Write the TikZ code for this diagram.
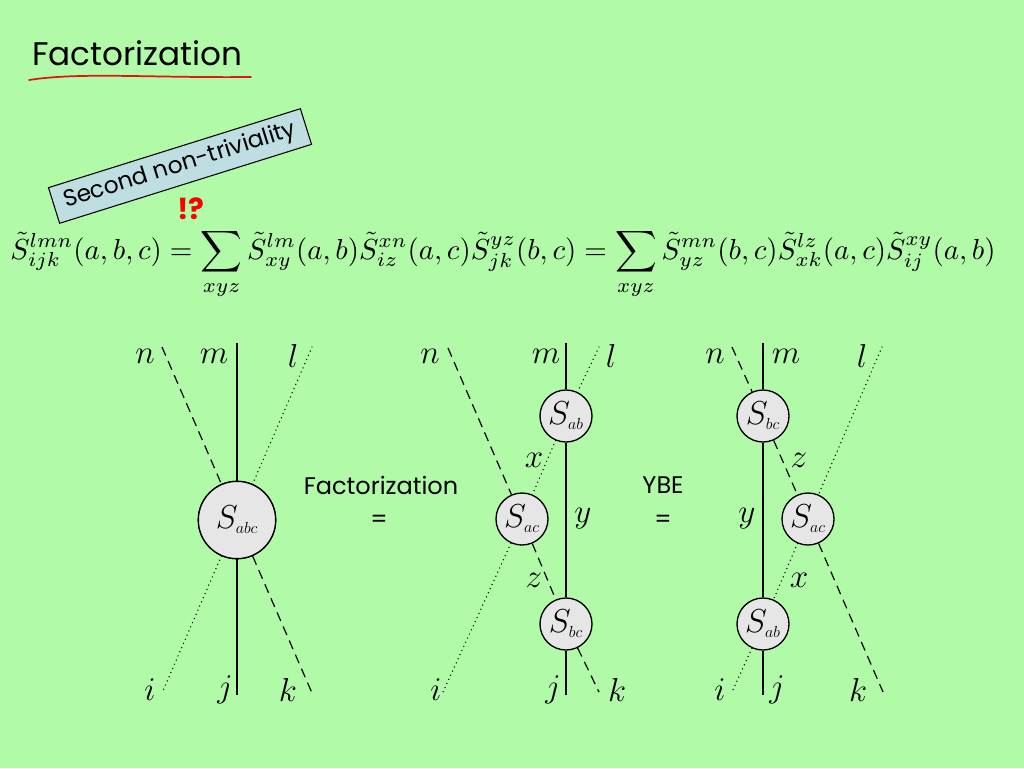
\documentclass[tikz,border=0pt]{standalone}
\usepackage{fontspec}
\usepackage{amsmath}
\usepackage{graphicx}
\newfontfamily\comicfont{Poppins}
\definecolor{bggreen}{RGB}{176,250,168}
\definecolor{boxblue}{RGB}{190,222,226}
\definecolor{circgray}{RGB}{230,230,230}
\definecolor{ulred}{RGB}{225,20,20}
\newcommand{\Ssub}[1]{S_{\scriptscriptstyle #1}}
\begin{document}
\begin{tikzpicture}[x=0.75pt,y=-0.75pt,
  vert/.style={line width=1pt},
  dsh/.style={line width=0.9pt,dash pattern=on 7pt off 4.5pt},
  dot/.style={line width=1.1pt,line cap=round,dash pattern=on 0pt off 3.4pt},
  bigS/.style={circle,draw,line width=1pt,fill=circgray,minimum size=58pt,inner sep=0pt,font=\fontsize{23}{26}\selectfont},
  smallS/.style={circle,draw,line width=1pt,fill=circgray,minimum size=39pt,inner sep=0pt,font=\fontsize{23}{26}\selectfont},
  lab/.style={font=\fontsize{24}{28}\selectfont,inner sep=0pt},
  ctext/.style={font=\comicfont\fontsize{18}{21}\selectfont,inner sep=0pt}]
\fill[bggreen] (0,0) rectangle (1024,768);
\useasboundingbox (0,0) rectangle (1024,768);

% title
\node[font=\comicfont\fontsize{24.5}{28}\selectfont,anchor=base west,inner sep=0pt] (title) at (32,65) {Factorization};
\draw[ulred,line width=1.3pt,line cap=round] (29,80) .. controls (80,72) and (150,78) .. (251,77);

% rotated box
\node[draw,fill=boxblue,line width=0.8pt,rotate=17.4,minimum width=198pt,minimum height=28pt,inner sep=0pt,font=\comicfont\fontsize{17.5}{20}\selectfont] (snt) at (180,166) {Second non-triviality};
\node[text=red,font=\comicfont\bfseries\fontsize{22}{26}\selectfont,inner sep=0pt] (ex) at (191,209) {!?};

% formula
\node[anchor=base west,inner sep=0pt] (formula) at (10,259) {\resizebox{739pt}{!}{$\displaystyle
\tilde S^{lmn}_{ijk}(a,b,c)=\sum_{xyz}\tilde S^{lm}_{xy}(a,b)\tilde S^{xn}_{iz}(a,c)\tilde S^{yz}_{jk}(b,c)=\sum_{xyz}\tilde S^{mn}_{yz}(b,c)\tilde S^{lz}_{xk}(a,c)\tilde S^{xy}_{ij}(a,b)$}};

% ---------- diagram 1
\coordinate (a1n) at (162,347);
\coordinate (a1l) at (312,347);
\coordinate (a1m) at (237,343);
\coordinate (a1i) at (162,693);
\coordinate (a1k) at (312,693);
\coordinate (a1j) at (237,695);
\node[bigS] (S1) at (237,520) {};
\draw[dsh] (a1n) -- (S1) -- (a1k);
\draw[dot] (a1l) -- (S1) -- (a1i);
\draw[vert] (a1m) -- (S1) -- (a1j);
\node[bigS] (S1b) at (237,520) {$\Ssub{abc}$};
\node[lab] (l1n) at (145,356) {$n$};
\node[lab] (l1m) at (214,356) {$m$};
\node[lab] (l1l) at (293,356) {$l$};
\node[lab] (l1i) at (150,690) {$i$};
\node[lab] (l1j) at (225,690) {$j$};
\node[lab] (l1k) at (288,690) {$k$};

\node[ctext] (fact) at (381,485) {Factorization};
\node[ctext] (eq1) at (379,521) {=};

% ---------- diagram 2
\coordinate (a2n) at (448,348);
\coordinate (a2l) at (599,347);
\coordinate (a2m) at (566,343);
\coordinate (a2i) at (443,692);
\coordinate (a2k) at (599,692);
\coordinate (a2j) at (566,695);
\node[smallS] (Sab2) at (566,416) {$\Ssub{ab}$};
\node[smallS] (Sac2) at (522,519) {$\Ssub{ac}$};
\node[smallS] (Sbc2) at (566,624) {$\Ssub{bc}$};
\draw[vert] (a2m) -- (Sab2) -- (Sbc2) -- (a2j);
\draw[dsh] (a2n) -- (Sac2) -- (Sbc2) -- (a2k);
\draw[dot] (a2l) -- (Sab2) -- (Sac2) -- (a2i);
\node[lab] (l2n) at (430,356) {$n$};
\node[lab] (l2m) at (546,356) {$m$};
\node[lab] (l2l) at (611,356) {$l$};
\node[lab] (l2x) at (534,460) {$x$};
\node[lab] (l2y) at (583,519) {$y$};
\node[lab] (l2z) at (534,580) {$z$};
\node[lab] (l2i) at (436,690) {$i$};
\node[lab] (l2j) at (553,690) {$j$};
\node[lab] (l2k) at (617,690) {$k$};

\node[ctext] (ybe) at (663,485) {YBE};
\node[ctext] (eq2) at (663,521) {=};

% ---------- diagram 3
\coordinate (a3n) at (732,347);
\coordinate (a3l) at (882,347);
\coordinate (a3m) at (763,343);
\coordinate (a3i) at (732,692);
\coordinate (a3k) at (883,692);
\coordinate (a3j) at (763,695);
\node[smallS] (Sbc3) at (763,416) {$\Ssub{bc}$};
\node[smallS] (Sac3) at (808,519) {$\Ssub{ac}$};
\node[smallS] (Sab3) at (763,624) {$\Ssub{ab}$};
\draw[vert] (a3m) -- (Sbc3) -- (Sab3) -- (a3j);
\draw[dsh] (a3n) -- (Sbc3) -- (Sac3) -- (a3k);
\draw[dot] (a3l) -- (Sac3) -- (Sab3) -- (a3i);
\node[lab] (l3n) at (715,356) {$n$};
\node[lab] (l3m) at (786,356) {$m$};
\node[lab] (l3l) at (862,356) {$l$};
\node[lab] (l3z) at (799,460) {$z$};
\node[lab] (l3y) at (747,519) {$y$};
\node[lab] (l3x) at (799,580) {$x$};
\node[lab] (l3i) at (720,690) {$i$};
\node[lab] (l3j) at (777,690) {$j$};
\node[lab] (l3k) at (858,690) {$k$};
\end{tikzpicture}
\end{document}
